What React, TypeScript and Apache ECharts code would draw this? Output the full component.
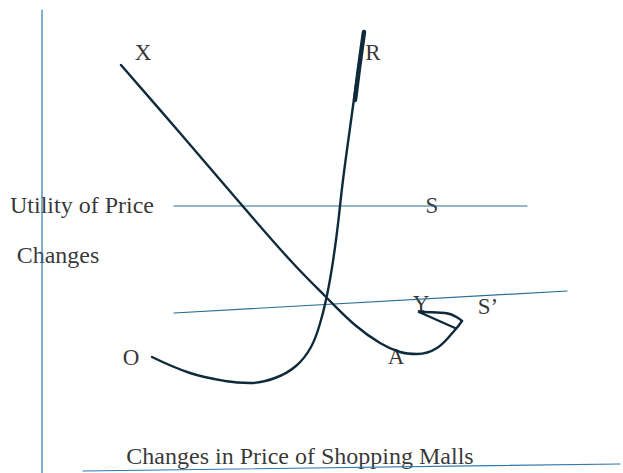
import React, { useEffect, useRef } from "react";
import * as echarts from "echarts";

// Diagram coordinates: x grows to the right, y grows downward (0..473).
const W = 623;
const H = 473;

const verticalAxis: number[][] = [[42, 10], [42, 473]];
const horizontalAxis: number[][] = [[83, 471], [620, 464]];

const curveXA: number[][] = [
  [121, 65], [180, 133], [240, 203], [290, 260], [325, 296], [355, 325],
  [380, 343], [400, 352], [417, 354], [437, 348], [455, 330], [462, 321],
];
const loopBack: number[][] = [[462, 321], [445, 313], [419, 312]];
const loopChord: number[][] = [[419, 312], [455, 328]];

const curveOR: number[][] = [
  [152, 357], [190, 373], [225, 381], [250, 383], [275, 378], [296, 366], [311, 347],
  [321, 320], [329, 285], [336, 240], [343, 180], [350, 128], [356, 85], [364, 32],
];
const curveORTop: number[][] = [[355, 100], [359, 68], [364, 32]];

const lineS: number[][] = [[174, 206], [527, 206]];
const lineSPrime: number[][] = [[174, 313], [567, 291]];

const pointLabels: { name: string; value: number[] }[] = [
  { name: "X", value: [143, 52] },
  { name: "R", value: [373, 52] },
  { name: "S", value: [432, 205] },
  { name: "Y", value: [421, 303] },
  { name: "S’", value: [488, 306] },
  { name: "O", value: [131, 357] },
  { name: "A", value: [396, 356] },
];

const axisTitles: { name: string; value: number[] }[] = [
  { name: "Utility of Price", value: [82, 205] },
  { name: "Changes", value: [58, 255] },
  { name: "Changes in Price of Shopping Malls", value: [300, 456] },
];

const INK = "#0e2a3b";
const BLUE = "#2f78b0";
const RULE = "#2a6d96";
const FONT = "Liberation Serif";

export default function App() {
  const ref = useRef<HTMLDivElement>(null);

  useEffect(() => {
    if (!ref.current) return;
    const chart = echarts.init(ref.current, null, { renderer: "svg" });

    const lineSeries = (data: number[][], color: string, width: number, smooth: number | boolean) => ({
      type: "line",
      data,
      smooth,
      symbol: "none",
      silent: true,
      lineStyle: { color, width, cap: "round", join: "round" },
    });

    const textLabel = (size: number) => ({
      show: true,
      position: "inside",
      formatter: "{b}",
      fontFamily: FONT,
      fontSize: size,
      color: "#000000",
      textBorderWidth: 0,
      textBorderColor: "transparent",
    });

    chart.setOption({
      animation: false,
      backgroundColor: "#ffffff",
      grid: { left: 0, right: 0, top: 0, bottom: 0 },
      xAxis: { type: "value", min: 0, max: W, show: false },
      yAxis: { type: "value", min: 0, max: H, inverse: true, show: false },
      series: [
        lineSeries(verticalAxis, BLUE, 1.2, false),
        lineSeries(horizontalAxis, BLUE, 1.2, false),
        lineSeries(lineS, RULE, 1.2, false),
        lineSeries(lineSPrime, RULE, 1.2, false),
        lineSeries(curveXA, INK, 2.4, 0.4),
        lineSeries(loopBack, INK, 2.4, 0.5),
        lineSeries(loopChord, INK, 2.4, false),
        lineSeries(curveOR, INK, 2.4, 0.4),
        lineSeries(curveORTop, INK, 4.5, 0.3),
        {
          type: "scatter",
          data: pointLabels,
          symbolSize: 0,
          silent: true,
          label: textLabel(23),
        },
        {
          type: "scatter",
          data: axisTitles,
          symbolSize: 0,
          silent: true,
          label: textLabel(24),
        },
      ],
    });

    return () => chart.dispose();
  }, []);

  return (
    <div
      ref={ref}
      style={{ position: "absolute", left: 0, top: 0, width: W, height: H, background: "#fff" }}
    />
  );
}
